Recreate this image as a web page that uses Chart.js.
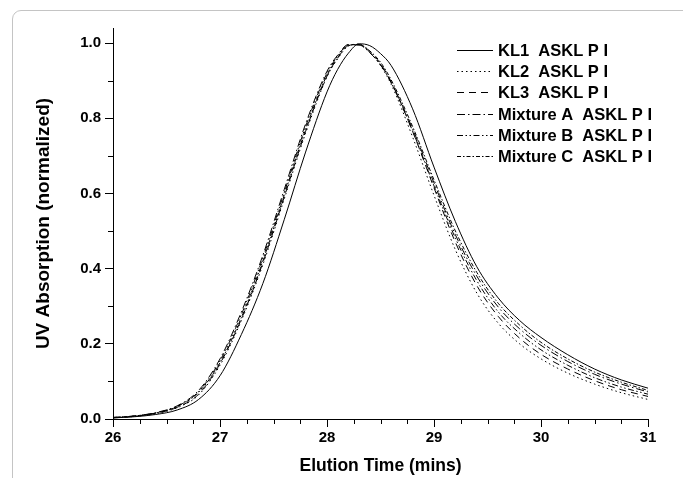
<!DOCTYPE html>
<html>
<head>
<meta charset="utf-8">
<script src="https://cdn.jsdelivr.net/npm/chart.js@4/dist/chart.umd.min.js"></script>
<style>
  html, body { margin:0; padding:0; background:#fff; overflow:hidden; }
  #wrap { position:relative; width:683px; height:478px; }
  #frame { position:absolute; left:12px; top:10px; width:720px; height:520px;
           border:1.5px solid #c4c4c4; border-radius:9px; }
  #uvChart { position:absolute; left:0; top:0; }
</style>
</head>
<body>
<div id="wrap">
  <div id="frame"></div>
  <canvas id="uvChart" width="683" height="478"></canvas>
</div>
<script>
/* ---------- DATA ---------- */

const times = [26.0, 26.2, 26.4, 26.6, 26.8, 27.0, 27.2, 27.4, 27.6, 27.8, 28.0, 28.1, 28.2, 28.3,
  28.4, 28.5, 28.6, 28.8, 29.0, 29.2, 29.4, 29.6, 29.8, 30.0, 30.25, 30.5, 30.75, 31.0]

const kl1 = [0.003, 0.006, 0.012, 0.024, 0.052, 0.115, 0.225, 0.36, 0.53, 0.71, 0.87, 0.93, 0.973, 0.998,
  0.993, 0.972, 0.94, 0.825, 0.67, 0.525, 0.405, 0.322, 0.262, 0.217, 0.171, 0.133, 0.104, 0.082]
const kl2 = [0.003, 0.007, 0.014, 0.030, 0.064, 0.143, 0.262, 0.41, 0.585, 0.76, 0.91, 0.958, 0.992, 0.997,
  0.975, 0.94, 0.89, 0.75, 0.595, 0.45, 0.335, 0.255, 0.2, 0.16, 0.122, 0.093, 0.07, 0.052]
const kl3 = [0.003, 0.007, 0.015, 0.031, 0.066, 0.147, 0.266, 0.415, 0.59, 0.765, 0.912, 0.96, 0.993, 0.996,
  0.978, 0.945, 0.897, 0.765, 0.615, 0.47, 0.355, 0.273, 0.215, 0.172, 0.133, 0.102, 0.078, 0.060]
const mixA = [0.004, 0.008, 0.017, 0.035, 0.076, 0.16, 0.285, 0.435, 0.61, 0.785, 0.925, 0.968, 0.996, 0.995,
  0.974, 0.942, 0.895, 0.772, 0.628, 0.49, 0.38, 0.298, 0.24, 0.196, 0.153, 0.119, 0.093, 0.072]
const mixB = [0.004, 0.008, 0.016, 0.034, 0.073, 0.155, 0.278, 0.428, 0.602, 0.778, 0.92, 0.965, 0.995, 0.995,
  0.975, 0.943, 0.894, 0.766, 0.62, 0.481, 0.368, 0.285, 0.228, 0.184, 0.143, 0.11, 0.085, 0.066]
const mixC = [0.004, 0.008, 0.016, 0.033, 0.071, 0.15, 0.27, 0.42, 0.595, 0.77, 0.915, 0.962, 0.994, 0.996,
  0.979, 0.949, 0.902, 0.778, 0.636, 0.5, 0.39, 0.308, 0.25, 0.204, 0.16, 0.125, 0.098, 0.076]

const seriesNames = ["KL1  ASKL P I", "KL2  ASKL P I", "KL3  ASKL P I",
  "Mixture A  ASKL P I", "Mixture B  ASKL P I", "Mixture C  ASKL P I"]
const dashes = [[], [1.5, 3], [7, 5], [8, 3, 1.5, 3], [6, 2.5, 1.5, 2.5, 1.5, 2.5], [4, 2, 1.5, 2]]
const seriesValues = [kl1, kl2, kl3, mixA, mixB, mixC]

const FONT = "'Liberation Sans', Arial, sans-serif"

/* ---------- PLUGINS ---------- */

// minor ticks (x every 0.25, y every 0.1) drawn through the scales
const minorTicks = {
  id: 'minorTicks',
  afterDraw(chart) {
    const ctx = chart.ctx, xs = chart.scales.x, ys = chart.scales.y
    ctx.save()
    ctx.strokeStyle = '#000'
    ctx.lineWidth = 1
    ctx.beginPath()
    for (let v = 26.25; v < 31; v += 0.25) {
      if (Math.abs(v - Math.round(v)) < 1e-6) continue
      const px = Math.round(xs.getPixelForValue(v)) + 0.5
      ctx.moveTo(px, ys.bottom)
      ctx.lineTo(px, ys.bottom + 5)
    }
    for (let v = 0.1; v < 1.0; v += 0.2) {
      const py = Math.round(ys.getPixelForValue(v)) + 0.5
      ctx.moveTo(xs.left, py)
      ctx.lineTo(xs.left - 5, py)
    }
    ctx.stroke()
    ctx.restore()
  }
}

// legend in the top right, line samples with each dataset's dash
const lineLegend = {
  id: 'lineLegend',
  afterDraw(chart) {
    const ctx = chart.ctx
    const x0 = 457, x1 = 493, tx = 498, y0 = 50, step = 21.2
    ctx.save()
    ctx.font = 'bold 16.5px ' + FONT
    ctx.fillStyle = '#000'
    ctx.textBaseline = 'middle'
    chart.data.datasets.forEach((ds, i) => {
      const y = Math.round(y0 + step * i) + 0.5
      ctx.strokeStyle = '#000'
      ctx.lineWidth = 1
      ctx.setLineDash(ds.borderDash || [])
      ctx.beginPath()
      ctx.moveTo(x0, y)
      ctx.lineTo(x1, y)
      ctx.stroke()
      ctx.setLineDash([])
      ctx.fillText(ds.label, tx, y + 1)
    })
    ctx.restore()
  }
}

/* ---------- UV CHART ---------- */

try {
  new Chart(document.getElementById("uvChart"), {
    type: 'line',
    data: {
      datasets: seriesValues.map((vals, i) => ({
        label: seriesNames[i],
        data: times.map((t, k) => ({x: t, y: vals[k]})),
        borderColor: '#000',
        borderWidth: 1,
        borderDash: dashes[i],
        pointRadius: 0,
        fill: false,
        cubicInterpolationMode: 'monotone'
      }))
    },
    options: {
      responsive: false,
      animation: false,
      layout: {padding: {left: 0, right: 35, top: 28, bottom: 0}},
      plugins: {legend: {display: false}, tooltip: {enabled: false}},
      scales: {
        x: {
          type: 'linear',
          min: 26, max: 31,
          afterFit(s) { s.height = 59 },
          border: {color: '#000', width: 1},
          grid: {drawOnChartArea: false, tickLength: 8, tickColor: '#000'},
          ticks: {stepSize: 1, color: '#000', padding: 2, maxRotation: 0,
                  font: {family: FONT, size: 15, weight: 'bold'}},
          title: {display: true, text: 'Elution Time (mins)', color: '#000',
                  padding: {top: 0, bottom: 1},
                  font: {family: FONT, size: 17.5, weight: 'bold'}}
        },
        y: {
          min: 0, max: 1.04,
          afterFit(s) { s.width = 113 },
          border: {color: '#000', width: 1},
          grid: {drawOnChartArea: false, tickLength: 8, tickColor: '#000'},
          ticks: {stepSize: 0.2, includeBounds: false, color: '#000', padding: 4,
                  font: {family: FONT, size: 15, weight: 'bold'},
                  callback: v => v.toFixed(1)},
          title: {display: true, text: 'UV Absorption (normalized)', color: '#000',
                  padding: {top: 32, bottom: 0},
                  font: {family: FONT, size: 19, weight: 'bold'}}
        }
      }
    },
    plugins: [minorTicks, lineLegend]
  })
} catch(e) {
  console.error('Error initializing UV chart:', e)
}
</script>
</body>
</html>
